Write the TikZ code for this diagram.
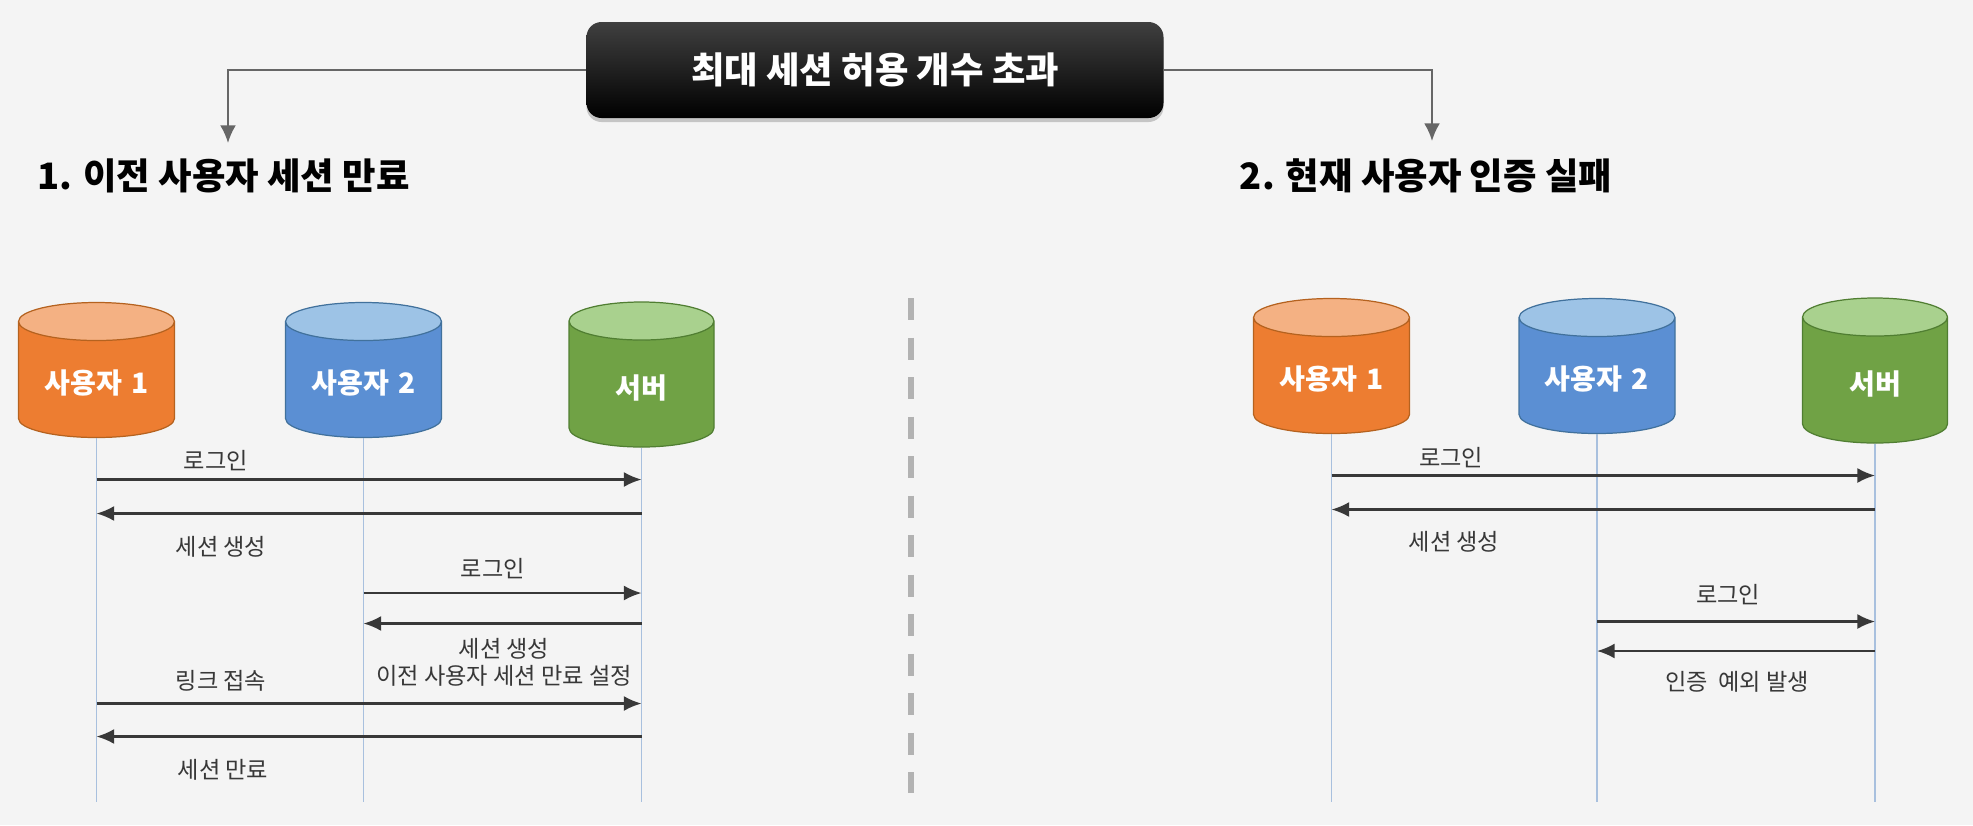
\documentclass[tikz,border=0pt]{standalone}
\usepackage{fontspec}
\setmainfont{Noto Sans CJK KR}
\usetikzlibrary{shapes.geometric,arrows.meta,shadows}

\definecolor{bgGray}{HTML}{F4F4F4}
\definecolor{orangeBody}{HTML}{ED7D31}
\definecolor{orangeTop}{HTML}{F4B183}
\definecolor{orangeLine}{HTML}{B5621F}
\definecolor{blueBody}{HTML}{5B8FD3}
\definecolor{blueTop}{HTML}{9DC3E6}
\definecolor{blueLine}{HTML}{41719C}
\definecolor{greenBody}{HTML}{70A245}
\definecolor{greenTop}{HTML}{A9D18E}
\definecolor{greenLine}{HTML}{507E32}
\definecolor{lifeBlue}{HTML}{A8C0DE}
\definecolor{msgGray}{HTML}{383838}

\begin{document}
\begin{tikzpicture}[
    actor/.style={cylinder, shape border rotate=90, aspect=0.3, draw, line width=0.7pt,
        cylinder uses custom fill, minimum width=3.12cm, minimum height=2.7cm, anchor=shape center,
        text width=2.3cm, align=center, text=white, font=\bfseries\fontsize{16}{19}\selectfont},
    user1/.style={actor, draw=orangeLine, cylinder body fill=orangeBody, cylinder end fill=orangeTop},
    user2/.style={actor, draw=blueLine, cylinder body fill=blueBody, cylinder end fill=blueTop},
    server/.style={actor, draw=greenLine, cylinder body fill=greenBody, cylinder end fill=greenTop,
        minimum width=2.9cm, minimum height=2.9cm},
    lifeline/.style={draw=lifeBlue, line width=1.1pt},
    msg/.style={->, >={Latex[length=10pt,width=8.5pt]}, draw=black!78, line width=1.2pt},
    msglabel/.style={text=msgGray, font=\fontsize{13.2}{15.6}\selectfont, align=center, inner sep=0pt},
    heading/.style={font=\bfseries\fontsize{20.7}{24}\selectfont, inner sep=0pt},
    branch/.style={->, >={Latex[length=10pt,width=9pt]}, draw=black!60, line width=1.2pt}
]
    % Background
    \fill[bgGray] (0,0) rectangle (39.46,-16.5);

    % Top: limit exceeded
    \node[rounded corners=0.3cm, top color=black!75, middle color=black, bottom color=black,
        drop shadow={opacity=0.4, shadow xshift=0pt, shadow yshift=-0.08cm},
        minimum width=11.54cm, minimum height=1.92cm, text=white,
        font=\bfseries\fontsize{20.7}{24}\selectfont] (top) at (17.50,-1.40) {최대 세션 허용 개수 초과};

    % Two cases
    \node[heading] (h1) at (4.47,-3.52) {1. 이전 사용자 세션 만료};
    \node[heading] (h2) at (28.52,-3.52) {2. 현재 사용자 인증 실패};
    \coordinate (t1) at (4.56,-2.86);
    \coordinate (t2) at (28.64,-2.82);
    \draw[branch] (top.west) -| (t1);
    \draw[branch] (top.east) -| (t2);

    % Divider
    \draw[black!30, line width=3.4pt, dash pattern=on 12.5pt off 10pt] (18.22,-5.96) -- (18.22,-15.86);

    % Left: participants
    \node[user1] (a1) at (1.93,-7.40) {사용자 1};
    \node[user2] (a2) at (7.27,-7.40) {사용자 2};
    \node[server] (a3) at (12.83,-7.49) {서버};

    % Right: participants
    \node[user1] (b1) at (26.63,-7.32) {사용자 1};
    \node[user2] (b2) at (31.94,-7.32) {사용자 2};
    \node[server] (b3) at (37.50,-7.41) {서버};

    % Lifelines
    \foreach \n in {a1,a2,a3,b1,b2,b3}
        \draw[lifeline] (\n.south) -- (\n.south |- 0,-16.04);

    % Left: messages
    \draw[msg] (a1 |- 0,-9.59) -- (a3 |- 0,-9.59);
    \draw[msg] (a3 |- 0,-10.27) -- (a1 |- 0,-10.27);
    \draw[msg] (a2 |- 0,-11.86) -- (a3 |- 0,-11.86);
    \draw[msg] (a3 |- 0,-12.47) -- (a2 |- 0,-12.47);
    \draw[msg] (a1 |- 0,-14.07) -- (a3 |- 0,-14.07);
    \draw[msg] (a3 |- 0,-14.73) -- (a1 |- 0,-14.73);

    \node[msglabel] (l1) at (4.32,-9.22) {로그인};
    \node[msglabel] (l2) at (4.42,-10.94) {세션 생성};
    \node[msglabel] (l3) at (9.86,-11.38) {로그인};
    \node[msglabel] (l4) at (10.08,-13.25) {세션 생성\\이전 사용자 세션 만료 설정};
    \node[msglabel] (l5) at (4.42,-13.61) {링크 접속};
    \node[msglabel] (l6) at (4.46,-15.39) {세션 만료};

    % Right: messages
    \draw[msg] (b1 |- 0,-9.51) -- (b3 |- 0,-9.51);
    \draw[msg] (b3 |- 0,-10.19) -- (b1 |- 0,-10.19);
    \draw[msg] (b2 |- 0,-12.43) -- (b3 |- 0,-12.43);
    \draw[msg] (b3 |- 0,-13.02) -- (b2 |- 0,-13.02);

    \node[msglabel] (r1) at (29.02,-9.16) {로그인};
    \node[msglabel] (r2) at (29.08,-10.84) {세션 생성};
    \node[msglabel] (r3) at (34.56,-11.90) {로그인};
    \node[msglabel] (r4) at (34.74,-13.64) {인증~~예외 발생};
\end{tikzpicture}
\end{document}
